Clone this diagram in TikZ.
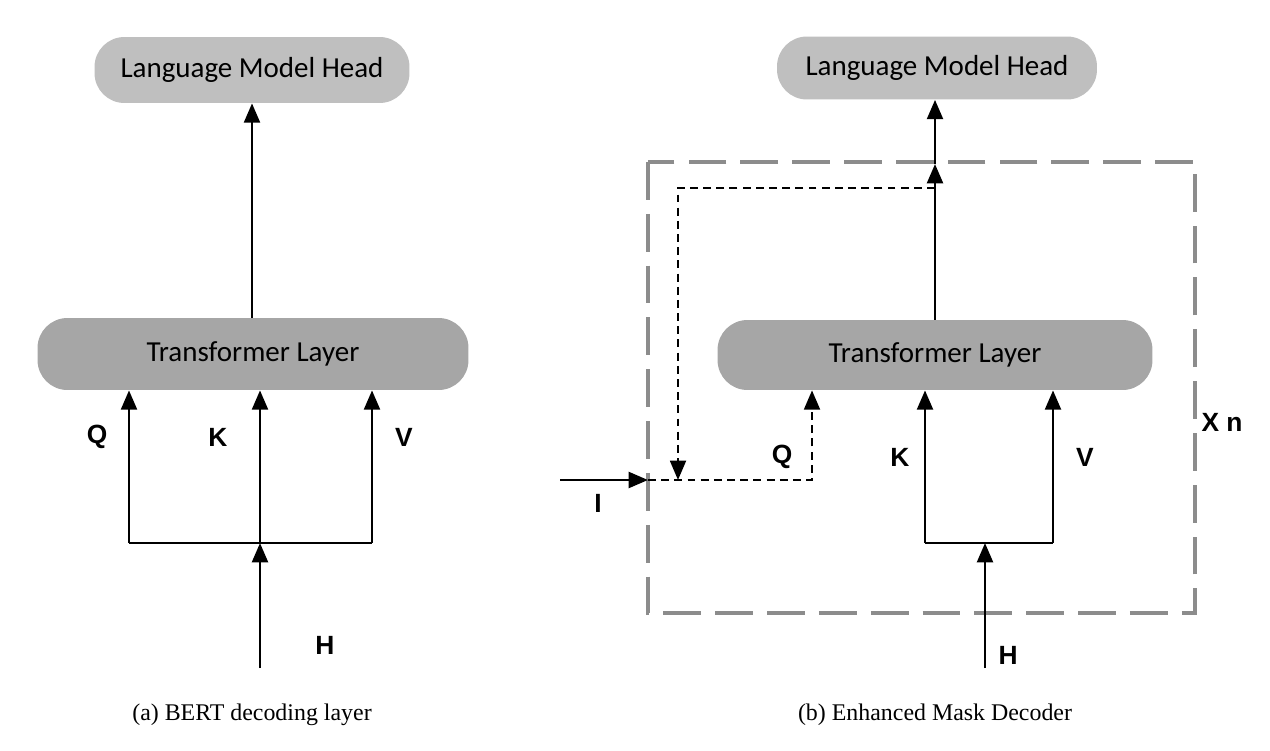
\documentclass[tikz,border=0pt]{standalone}
\usepackage{fontspec}
\setmainfont{Liberation Serif}
\newfontfamily\boxfont{Carlito}
\newfontfamily\lblfont{Liberation Sans}
\usetikzlibrary{arrows.meta,positioning}

\definecolor{headgray}{HTML}{BFBFBF}
\definecolor{layergray}{HTML}{A6A6A6}
\definecolor{framegray}{HTML}{8C8C8C}

\begin{document}
\begin{tikzpicture}[x=0.02cm,y=-0.02cm,
                    arr/.style={-{Triangle[width=9pt,length=11pt]},line width=1.6pt},
                    dashline/.style={line width=1.4pt,dash pattern=on 4.5pt off 3pt},
                    joinline/.style={line width=1.6pt},
                    block/.style={rounded corners=17pt,inner sep=0pt,
                                  font=\boxfont\fontsize{16.5}{18}\selectfont},
                    head/.style={block,fill=headgray},
                    layer/.style={block,fill=layergray},
                    lbl/.style={font=\lblfont\bfseries\fontsize{15}{17}\selectfont},
                    captext/.style={font=\fontsize{13.6}{16}\selectfont}]

  \useasboundingbox (0,0) rectangle (1270,750);

  % (a) BERT decoding layer
  \node[head,minimum width=6.3cm,minimum height=1.32cm]  (lmh1) at (252,70)  {Language Model Head};
  \node[layer,minimum width=8.62cm,minimum height=1.44cm] (tl1) at (253,354) {Transformer Layer};

  \coordinate (q1) at (129,543);
  \coordinate (k1) at (260,543);
  \coordinate (v1) at (372,543);
  \coordinate (h1) at (260,668);

  \draw[arr] (tl1.north -| lmh1.south) -- (lmh1.south);
  \draw[arr] (q1) -- (q1 |- tl1.south);
  \draw[arr] (k1) -- (k1 |- tl1.south);
  \draw[arr] (v1) -- (v1 |- tl1.south);
  \draw[joinline] (q1) -- (v1);
  \draw[arr] (h1) -- (k1);

  \node[lbl] (lq1) at (97,437)  {Q};
  \node[lbl] (lk1) at (218,437) {K};
  \node[lbl] (lv1) at (404,437) {V};
  \node[lbl] (lh1) at (325,645) {H};
  \node[captext] (cap1) at (252,715) {(a) BERT decoding layer};

  % (b) Enhanced Mask Decoder
  \draw[framegray,line width=2.3pt,dash pattern=on 21.5pt off 8pt] (648,162) rectangle (1195,613);

  \node[head,minimum width=6.4cm,minimum height=1.26cm]  (lmh2) at (937,68)  {Language Model Head};
  \node[layer,minimum width=8.7cm,minimum height=1.4cm]  (tl2) at (935,355) {Transformer Layer};

  \coordinate (mid)  at (935,164);
  \coordinate (tap)  at (935,188);
  \coordinate (jn)   at (678,480);
  \coordinate (in)   at (560,480);
  \coordinate (ent)  at (648,480);
  \coordinate (q2)   at (812,480);
  \coordinate (k2)   at (925,543);
  \coordinate (v2)   at (1053,543);
  \coordinate (hb2)  at (985,543);
  \coordinate (h2)   at (985,668);

  \draw[arr] (tl2.north) -- (mid);
  \draw[arr] (mid) -- (mid |- lmh2.south);
  \draw[dashline,-{Triangle[width=9pt,length=11pt]}] (tap) -| (jn);
  \draw[arr] (in) -- (ent);
  \draw[dashline,-{Triangle[width=9pt,length=11pt]}] (ent) -| (q2 |- tl2.south);
  \draw[arr] (k2) -- (k2 |- tl2.south);
  \draw[arr] (v2) -- (v2 |- tl2.south);
  \draw[joinline] (k2) -- (v2);
  \draw[arr] (h2) -- (hb2);

  \node[lbl] (li2) at (598,503)  {I};
  \node[lbl] (lq2) at (782,457)  {Q};
  \node[lbl] (lk2) at (900,457)  {K};
  \node[lbl] (lv2) at (1085,457) {V};
  \node[lbl] (lh2) at (1008,655) {H};
  \node[lbl] (ln2) at (1222,422) {X n};
  \node[captext] (cap2) at (935,715) {(b) Enhanced Mask Decoder};
\end{tikzpicture}
\end{document}
